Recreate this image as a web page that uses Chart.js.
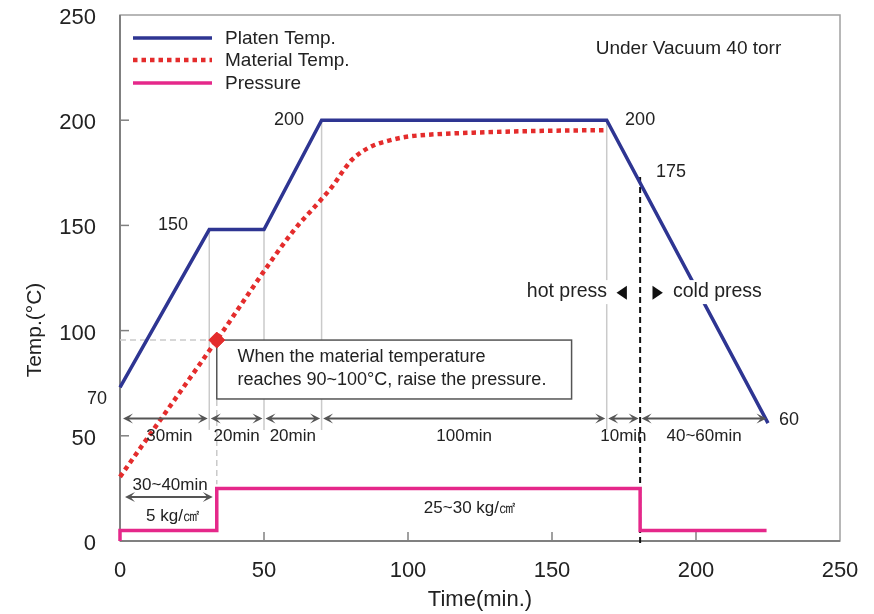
<!DOCTYPE html>
<html>
<head>
<meta charset="utf-8">
<script src="https://cdn.jsdelivr.net/npm/chart.js@4.4.1/dist/chart.umd.min.js"></script>
<style>
body { margin: 0; background: #fff; }
#wrap { width: 874px; height: 614px; position: relative; }
</style>
</head>
<body>
<div id="wrap"><canvas id="chart"></canvas></div>
<script>
// values: time in min, temperature in °C
const platenTime = [0, 31, 50, 70, 169, 225];
const platenTemp = [73, 148, 148, 200, 200, 56];

const materialTime = [0, 33.6, 60, 70, 74, 77, 80.4, 84, 88, 93, 99, 106, 125, 150, 169];
const materialTemp = [30.5, 95.5, 147, 162.5, 169, 175, 181, 185, 188, 190.2, 192, 193, 194.2, 195, 195.3];

// pressure is plotted on the temperature scale (5 and 25 kg/cm2)
const pressureTime = [0, 0, 33.6, 33.6, 180.6, 180.6, 224.5];
const pressureLevel = [0, 5, 5, 25, 25, 5, 5];

// point where the pressure is raised
const raiseTime = [33.6];
const raiseTemp = [95.5];

const xTicks = [0, 50, 100, 150, 200, 250];
const yTicks = [0, 50, 100, 150, 200, 250];

const stageBounds = [0, 31, 50, 70, 169, 180.6, 225];
const stageLabels = ['30min', '20min', '20min', '100min', '10min', '40~60min'];

const FONT = '"Liberation Sans", Arial, sans-serif';
const INK = '#222';
Chart.defaults.font.family = FONT;

const toPoints = (xs, ys) => xs.map((v, i) => ({x: v, y: ys[i]}));

function seg(ctx, x1, y1, x2, y2) {
	ctx.beginPath();
	ctx.moveTo(x1, y1);
	ctx.lineTo(x2, y2);
	ctx.stroke();
}

function head(ctx, tx, ty, dir) {
	// dir = 1 points right, -1 points left
	const L = 10, w = 5;
	ctx.beginPath();
	ctx.moveTo(tx, ty);
	ctx.lineTo(tx - dir * L, ty - w);
	ctx.lineTo(tx - dir * L * 0.55, ty);
	ctx.lineTo(tx - dir * L, ty + w);
	ctx.closePath();
	ctx.fill();
}

function arrow(ctx, x1, x2, yy) {
	ctx.save();
	ctx.strokeStyle = '#555';
	ctx.fillStyle = '#555';
	ctx.lineWidth = 2;
	seg(ctx, x1 + 4, yy, x2 - 4, yy);
	head(ctx, x1, yy, -1);
	head(ctx, x2, yy, 1);
	ctx.restore();
}

function text(ctx, str, px, py, size, align) {
	ctx.font = size + 'px ' + FONT;
	ctx.fillStyle = INK;
	ctx.textAlign = align || 'center';
	ctx.textBaseline = 'middle';
	ctx.fillText(str, px, py);
}

function tri(ctx, x1, x2, yy, h) {
	ctx.beginPath();
	ctx.moveTo(x1, yy);
	ctx.lineTo(x2, yy - h);
	ctx.lineTo(x2, yy + h);
	ctx.closePath();
	ctx.fill();
}

const processNotes = {
	id: 'processNotes',
	beforeDatasetsDraw(chart) {
		const {ctx, chartArea: a, scales: {x, y}} = chart;
		const px = v => x.getPixelForValue(v);
		const py = v => y.getPixelForValue(v);
		ctx.save();
		
		//frame
		ctx.strokeStyle = '#a0a0a0';
		ctx.lineWidth = 1.5;
		ctx.strokeRect(a.left, a.top, a.right - a.left, a.bottom - a.top);
		ctx.strokeStyle = '#808080';
		ctx.lineWidth = 2;
		seg(ctx, a.left, a.top, a.left, a.bottom);
		seg(ctx, a.left, a.bottom, a.right, a.bottom);
		
		//inner tick marks
		ctx.lineWidth = 1.5;
		yTicks.slice(1, -1).forEach(v => seg(ctx, a.left, py(v), a.left + 9, py(v)));
		xTicks.slice(1, -1).forEach(v => seg(ctx, px(v), a.bottom, px(v), a.bottom - 9));
		
		//stage guide lines
		ctx.strokeStyle = '#cacaca';
		ctx.lineWidth = 1.5;
		seg(ctx, px(31), py(148), px(31), py(52.8));
		seg(ctx, px(50), py(148), px(50), py(52.8));
		seg(ctx, px(70), py(200), px(70), py(52.8));
		seg(ctx, px(169), py(200), px(169), py(52.8));
		
		ctx.save();
		ctx.setLineDash([6, 4]);
		seg(ctx, px(raiseTime[0]), py(raiseTemp[0]), px(raiseTime[0]), py(27));
		seg(ctx, a.left, py(raiseTemp[0]), px(raiseTime[0]), py(raiseTemp[0]));
		
		//hot / cold split
		ctx.strokeStyle = '#111';
		ctx.lineWidth = 2;
		seg(ctx, px(180.6), py(173), px(180.6), a.bottom + 2);
		ctx.restore();
		
		//note box
		const bx1 = px(raiseTime[0]), by1 = py(raiseTemp[0]);
		const bx2 = px(156.8), by2 = py(67.5);
		ctx.fillStyle = '#fff';
		ctx.fillRect(bx1, by1, bx2 - bx1, by2 - by1);
		ctx.strokeStyle = '#555';
		ctx.lineWidth = 1.5;
		ctx.strokeRect(bx1, by1, bx2 - bx1, by2 - by1);
		text(ctx, 'When the material temperature', px(40.8), py(87.6), 18, 'left');
		text(ctx, 'reaches 90~100°C, raise the pressure.', px(40.8), py(76.5), 18, 'left');
		ctx.restore();
	},
	afterDatasetsDraw(chart) {
		const {ctx, chartArea: a, scales: {x, y}} = chart;
		const px = v => x.getPixelForValue(v);
		const py = v => y.getPixelForValue(v);
		ctx.save();
		
		//legend
		const rows = [a.top + 23, a.top + 45, a.top + 68];
		chart.data.datasets.slice(0, 3).forEach((ds, i) => {
			ctx.save();
			ctx.strokeStyle = ds.borderColor;
			ctx.lineWidth = ds.borderWidth;
			ctx.setLineDash(ds.borderDash || []);
			seg(ctx, a.left + 13, rows[i], a.left + 92, rows[i]);
			ctx.restore();
			text(ctx, ds.label, a.left + 105, rows[i] + 1, 19, 'left');
		});
		
		text(ctx, 'Under Vacuum 40 torr', px(197.4), py(233.8), 19);
		
		//value labels
		text(ctx, '150', px(18.4), py(150.2), 18);
		text(ctx, '200', px(58.7), py(200), 18);
		text(ctx, '200', px(180.6), py(200), 18);
		text(ctx, '175', px(191.3), py(175.4), 18);
		text(ctx, '70', px(-8), py(67.6), 18);
		text(ctx, '60', px(232.3), py(57.5), 18);
		
		//stage arrows
		for (let i = 0; i < stageLabels.length; i++) {
			const x1 = px(stageBounds[i]) + (i === 0 ? 3 : 1.5);
			const x2 = px(stageBounds[i + 1]) - 1.5;
			arrow(ctx, x1, x2, py(58.2));
			text(ctx, stageLabels[i], (x1 + x2) / 2 + (i === 0 ? 4 : 0), py(49.9), 17);
		}
		
		//low pressure span
		arrow(ctx, px(0) + 5, px(raiseTime[0]) - 4, py(20.9));
		text(ctx, '30~40min', px(17.4), py(26.6), 17);
		text(ctx, '5 kg/㎠', px(18.4), py(11.9), 17);
		text(ctx, '25~30 kg/㎠', px(121.5), py(15.7), 17);
		
		//hot press / cold press
		ctx.font = '19.5px ' + FONT;
		let w = ctx.measureText('hot press').width;
		ctx.fillStyle = '#fff';
		ctx.fillRect(px(169.1) - w - 2, py(118.3) - 12, w + 4, 24);
		text(ctx, 'hot press', px(169.1), py(118.3), 19.5, 'right');
		ctx.font = '19.5px ' + FONT;
		w = ctx.measureText('cold press').width;
		ctx.fillStyle = '#fff';
		ctx.fillRect(px(192) - 2, py(118.3) - 12, w + 4, 24);
		text(ctx, 'cold press', px(192), py(118.3), 19.5, 'left');
		ctx.fillStyle = '#111';
		tri(ctx, px(172.4), px(176), py(118), 7);
		tri(ctx, px(188.5), px(184.9), py(118), 7);
		
		//axis title
		ctx.save();
		ctx.translate(35, 330);
		ctx.rotate(-Math.PI / 2);
		text(ctx, 'Temp.(°C)', 0, 0, 21);
		ctx.restore();
		
		ctx.restore();
	}
};

new Chart(document.getElementById('chart'), {
	type: 'line',
	data: {
		datasets: [
			{
				label: 'Platen Temp.',
				data: toPoints(platenTime, platenTemp),
				borderColor: '#2e3592',
				borderWidth: 3.5,
				pointRadius: 0,
				tension: 0,
				clip: false,
			},
			{
				label: 'Material Temp.',
				data: toPoints(materialTime, materialTemp),
				borderColor: '#e42c2c',
				borderWidth: 4.5,
				borderDash: [4.5, 4],
				pointRadius: 0,
				cubicInterpolationMode: 'monotone',
				clip: false,
			},
			{
				label: 'Pressure',
				data: toPoints(pressureTime, pressureLevel),
				borderColor: '#e5288a',
				borderWidth: 3.5,
				pointRadius: 0,
				tension: 0,
				clip: false,
			},
			{
				label: 'raise',
				data: toPoints(raiseTime, raiseTemp),
				showLine: false,
				pointStyle: 'rectRot',
				pointRadius: 8,
				backgroundColor: '#e42c2c',
				borderColor: '#e42c2c',
				clip: false,
			},
		],
	},
	options: {
		responsive: true,
		maintainAspectRatio: false,
		animation: false,
		layout: {padding: {top: 15, right: 34, left: 0, bottom: 0}},
		plugins: {
			legend: {display: false},
			tooltip: {enabled: false},
		},
		scales: {
			x: {
				type: 'linear',
				min: 0,
				max: 250,
				afterBuildTicks: s => { s.ticks = xTicks.map(v => ({value: v})); },
				afterFit: s => { s.height = 73; s.paddingLeft = 0; s.paddingRight = 0; },
				ticks: {font: {size: 22}, color: INK, padding: 17, maxRotation: 0},
				grid: {drawOnChartArea: false, drawTicks: false},
				border: {display: false},
				title: {display: true, text: 'Time(min.)', font: {size: 22}, color: INK, padding: {top: 0, bottom: 1}},
			},
			y: {
				type: 'linear',
				min: 0,
				max: 250,
				afterBuildTicks: s => { s.ticks = yTicks.map(v => ({value: v})); },
				afterFit: s => { s.width = 120; s.paddingTop = 0; s.paddingBottom = 0; },
				ticks: {font: {size: 22}, color: INK, padding: 24, labelOffset: 3},
				grid: {drawOnChartArea: false, drawTicks: false},
				border: {display: false},
			},
		},
	},
	plugins: [processNotes],
});
</script>
</body>
</html>
